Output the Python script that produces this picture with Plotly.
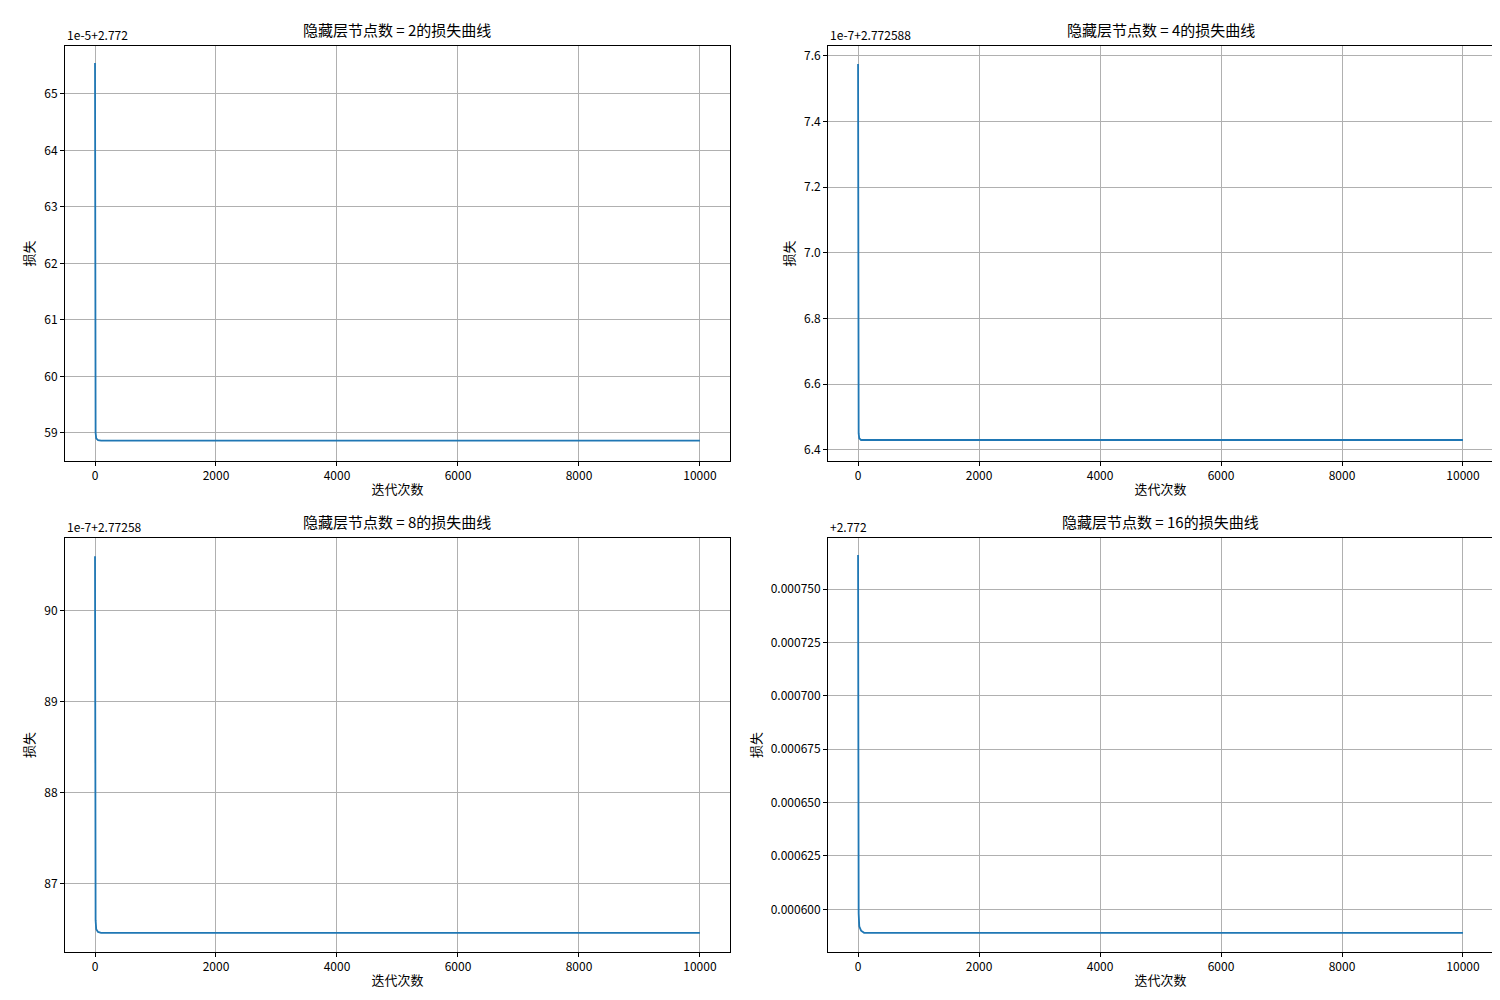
import plotly.graph_objects as go

# iterations sampled along each curve (the drop happens in the first ~50 steps)
iters = [0, 2, 5, 10, 20, 50, 100, 10000]

# loss values shown as offsets from the matplotlib axis offset
loss_h2 = [65.55, 61.0, 59.5, 59.0, 58.9, 58.87, 58.86, 58.86]      # 1e-5 + 2.772
loss_h4 = [7.575, 6.7, 6.5, 6.45, 6.435, 6.43, 6.43, 6.43]             # 1e-7 + 2.772588
loss_h8 = [90.6, 87.8, 86.9, 86.6, 86.5, 86.47, 86.46, 86.46]        # 1e-7 + 2.77258
loss_h16 = [0.000766, 0.00065, 0.000612, 0.000598, 0.000592, 0.00059, 0.000589, 0.000589]  # +2.772

titles = ["隐藏层节点数 = 2的损失曲线", "隐藏层节点数 = 4的损失曲线",
          "隐藏层节点数 = 8的损失曲线", "隐藏层节点数 = 16的损失曲线"]
offsets = ["1e-5+2.772", "1e-7+2.772588", "1e-7+2.77258", "+2.772"]
series = [loss_h2, loss_h4, loss_h8, loss_h16]
x_ticks = [0, 2000, 4000, 6000, 8000, 10000]

x_domains = [[0.038, 0.4813], [0.5467, 0.99], [0.038, 0.4813], [0.5467, 0.99]]
y_domains = [[0.547, 0.962], [0.547, 0.962], [0.056, 0.47], [0.056, 0.47]]
y_ranges = [[58.5, 65.85], [6.366, 7.63], [86.25, 90.8], [0.00058, 0.000774]]
y_ticks = [[59, 60, 61, 62, 63, 64, 65],
           [6.4, 6.6, 6.8, 7.0, 7.2, 7.4, 7.6],
           [87, 88, 89, 90],
           [0.0006, 0.000625, 0.00065, 0.000675, 0.0007, 0.000725, 0.00075]]
y_formats = ["d", ".1f", "d", ".6f"]

FONT = "Noto Sans CJK SC, SimHei, sans-serif"
fig = go.Figure()
layout = dict(width=1500, height=1000,
              margin=dict(l=0, r=0, t=0, b=0, autoexpand=False),
              paper_bgcolor="white", plot_bgcolor="white", showlegend=False,
              font=dict(family=FONT, size=12, color="black"), annotations=[])

for i in range(4):
    n = "" if i == 0 else str(i + 1)
    fig.add_trace(go.Scatter(x=iters, y=series[i], mode="lines",
                             line=dict(color="#1f77b4", width=1.8),
                             xaxis="x" + n, yaxis="y" + n))
    axcommon = dict(showline=True, linecolor="black", linewidth=1, mirror=True,
                    showgrid=True, gridcolor="#b0b0b0", gridwidth=1, zeroline=False,
                    ticks="outside", ticklen=4, tickcolor="black",
                    tickfont=dict(size=12), automargin=False)
    layout["xaxis" + n] = dict(axcommon, domain=x_domains[i], range=[-496, 10496],
                               tickvals=x_ticks, ticktext=[str(t) for t in x_ticks],
                               anchor="y" + n,
                               title=dict(text="迭代次数", font=dict(size=13), standoff=2))
    layout["yaxis" + n] = dict(axcommon, domain=y_domains[i], range=y_ranges[i],
                               tickvals=y_ticks[i], tickformat=y_formats[i],
                               anchor="x" + n,
                               title=dict(text="损失", font=dict(size=13), standoff=6))
    xd, yd = x_domains[i], y_domains[i]
    layout["annotations"].append(dict(text=titles[i], x=(xd[0] + xd[1]) / 2, y=yd[1],
                                      xref="paper", yref="paper", xanchor="center",
                                      yanchor="bottom", yshift=4, showarrow=False,
                                      font=dict(size=15)))
    layout["annotations"].append(dict(text=offsets[i], x=xd[0], y=yd[1],
                                      xref="paper", yref="paper", xanchor="left",
                                      yanchor="bottom", yshift=1, showarrow=False,
                                      font=dict(size=12)))

fig.update_layout(layout)
fig.write_html("out.html")
